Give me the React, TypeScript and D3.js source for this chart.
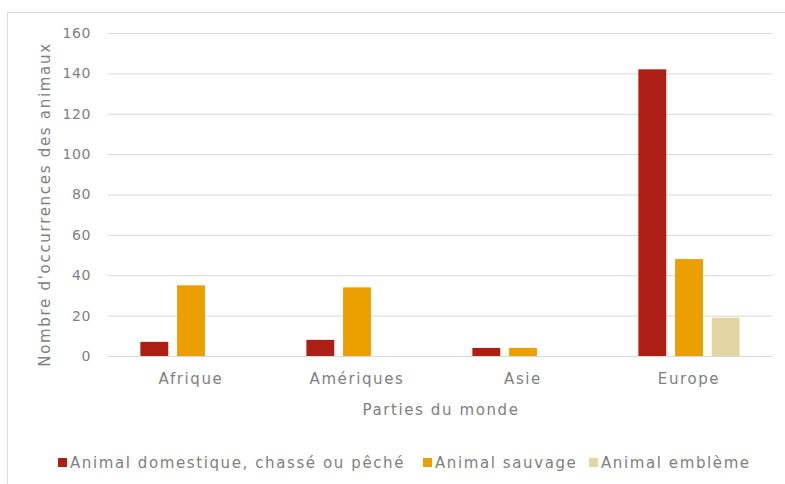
import React, { useRef, useEffect } from "react"
import * as d3 from "d3"

// Data
const categories = ["Afrique", "Amériques", "Asie", "Europe"]
const seriesNames = ["Animal domestique, chassé ou pêché", "Animal sauvage", "Animal emblème"]
const domestique = [7, 8, 4, 142]
const sauvage = [35, 34, 4, 48]
const embleme = [0, 0, 0, 19]
const yTicks = [0, 20, 40, 60, 80, 100, 120, 140, 160]
const colors = ["#ad1f12", "#eba000", "#e2d6a4"]

const App: React.FC = () => {
  const svgRef = useRef<SVGSVGElement | null>(null)
  const width = 785
  const height = 484

  useEffect(() => {
    const svg = d3.select(svgRef.current)
    svg.selectAll("*").remove()

    const margin = { top: 33, right: 13, bottom: 128, left: 108 }
    const innerWidth = width - margin.left - margin.right
    const innerHeight = height - margin.top - margin.bottom
    const font = "'DejaVu Sans', sans-serif"
    const textColor = "#808080"
    const spacing = 1.6

    // chart frame
    svg.append("rect")
      .attr("x", 7.5).attr("y", 12.5)
      .attr("width", 820).attr("height", 520)
      .attr("fill", "#fff").attr("stroke", "#d9d9d9")

    const x0 = d3.scaleBand<string>()
      .domain(categories)
      .range([0, innerWidth])
      .paddingInner(0).paddingOuter(0)

    const keys = [0, 1, 2]
    const x1 = d3.scaleBand<number>()
      .domain(keys)
      .range([x0.bandwidth() * 0.195, x0.bandwidth() * 0.805])
      .paddingInner(0.24)

    const y = d3.scaleLinear().domain([0, 160]).range([innerHeight, 0])

    const g = svg.append("g").attr("transform", `translate(${margin.left},${margin.top})`)

    // gridlines + y labels
    const yAxis = d3.axisLeft(y).tickValues(yTicks).tickSize(-innerWidth).tickPadding(17)
    g.append("g").call(yAxis)
      .call(a => a.select(".domain").remove())
      .call(a => a.selectAll(".tick line").attr("stroke", "#d9d9d9").attr("stroke-width", 1))
      .call(a => a.selectAll(".tick text")
        .attr("fill", textColor).attr("font-family", font).attr("font-size", 14)
        .attr("letter-spacing", 0.6))

    const rows = categories.map((c, i) => ({ cat: c, vals: [domestique[i], sauvage[i], embleme[i]] }))

    const groups = g.selectAll("g.cat").data(rows).enter().append("g")
      .attr("class", "cat")
      .attr("transform", d => `translate(${x0(d.cat)},0)`)

    groups.selectAll("rect")
      .data(d => d.vals.map((v, k) => ({ k, v })))
      .enter().append("rect")
      .attr("x", d => x1(d.k) as number)
      .attr("width", x1.bandwidth())
      .attr("y", d => y(d.v))
      .attr("height", d => innerHeight - y(d.v))
      .attr("fill", d => colors[d.k])

    // x axis labels
    const xAxis = d3.axisBottom(x0).tickSize(0).tickPadding(17)
    g.append("g").attr("transform", `translate(0,${innerHeight})`).call(xAxis)
      .call(a => a.select(".domain").remove())
      .call(a => a.selectAll(".tick text")
        .attr("fill", textColor).attr("font-family", font).attr("font-size", 15)
        .attr("letter-spacing", spacing))

    // axis titles
    svg.append("text")
      .attr("x", margin.left + innerWidth / 2 + 1).attr("y", 415)
      .attr("text-anchor", "middle")
      .attr("fill", textColor).attr("font-family", font).attr("font-size", 15)
      .attr("letter-spacing", spacing)
      .text("Parties du monde")

    svg.append("text")
      .attr("transform", `translate(50,${margin.top + innerHeight / 2 + 10}) rotate(-90)`)
      .attr("text-anchor", "middle")
      .attr("fill", textColor).attr("font-family", font).attr("font-size", 15)
      .attr("letter-spacing", 1.7)
      .text("Nombre d'occurrences des animaux")

    // legend
    const legendX = [58, 423, 589]
    const legend = svg.append("g").attr("transform", "translate(0,463)")
    seriesNames.forEach((name, i) => {
      legend.append("rect")
        .attr("x", legendX[i]).attr("y", -5)
        .attr("width", 9).attr("height", 9)
        .attr("fill", colors[i])
      legend.append("text")
        .attr("x", legendX[i] + 12).attr("y", 5)
        .attr("fill", textColor).attr("font-family", font).attr("font-size", 15)
        .attr("letter-spacing", spacing)
        .text(name)
    })
  }, [])

  return (
    <svg ref={svgRef} width={width} height={height}
      style={{ position: "absolute", left: 0, top: 0, background: "#fff" }}></svg>
  )
}

export default App
